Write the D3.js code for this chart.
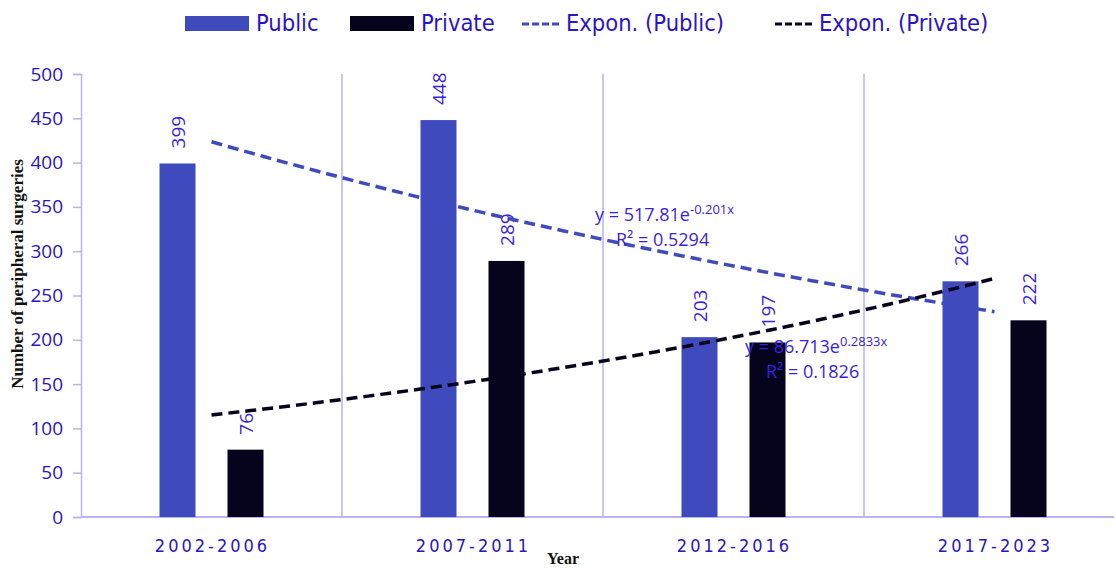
<!DOCTYPE html>
<html>
<head>
<meta charset="utf-8">
<script src="https://cdn.jsdelivr.net/npm/d3@7"></script>
<style>
  body { margin: 0; background: #fff; }
  text { font-family: "DejaVu Sans", sans-serif; }
</style>
</head>
<body>
<script>
const width = 1116;
const height = 568;
const marginTop = 74;
const marginRight = -9;
const marginBottom = 51;
const marginLeft = 81;

// data
const periods = ["2002-2006", "2007-2011", "2012-2016", "2017-2023"];
const publicCounts = [399, 448, 203, 266];
const privateCounts = [76, 289, 197, 222];
const yTicks = [0, 50, 100, 150, 200, 250, 300, 350, 400, 450, 500];
// exponential trend coefficients shown on the chart (a * e^(b*x), x = 1..4)
const publicTrend = [517.81, -0.201];
const privateTrend = [86.713, 0.2833];

const axisColor = "#b9b3ef";
const labelColor = "#3a1fe0";
const tickColor = "#2a14c4";
const publicColor = "#3f4bbd";
const privateColor = "#05041c";
const condensed = "'DejaVu Sans Condensed', 'Liberation Sans Narrow', sans-serif";
const sans = "'Open Sans', 'DejaVu Sans', sans-serif";

const svg = d3.select("body").append("svg")
  .attr("width", width)
  .attr("height", height);

const x = d3.scaleBand()
  .domain(periods)
  .range([marginLeft, width - marginRight])
  .padding(0);

const xNum = d3.scaleLinear()
  .domain([0.5, 4.5])
  .range([marginLeft, width - marginRight]);

const y = d3.scaleLinear()
  .domain([0, 500])
  .range([height - marginBottom, marginTop]);

// category separators
svg.append("g")
  .selectAll("line")
  .data(periods.slice(1))
  .join("line")
    .attr("x1", d => x(d))
    .attr("x2", d => x(d))
    .attr("y1", marginTop)
    .attr("y2", height - marginBottom)
    .attr("stroke", axisColor)
    .attr("stroke-width", 1.5);

// y axis
const yAxis = svg.append("g")
  .attr("transform", `translate(${marginLeft},0)`)
  .call(d3.axisLeft(y).tickValues(yTicks).tickSize(8).tickPadding(10));
yAxis.select(".domain").attr("stroke", axisColor).attr("stroke-width", 1.5);
yAxis.selectAll(".tick line").attr("stroke", axisColor).attr("stroke-width", 1.5);
yAxis.selectAll(".tick text")
  .attr("fill", tickColor)
  .style("font-family", sans)
  .style("font-size", "19px");

// x axis baseline
svg.append("line")
  .attr("x1", marginLeft)
  .attr("x2", 1114)
  .attr("y1", y(0))
  .attr("y2", y(0))
  .attr("stroke", axisColor)
  .attr("stroke-width", 2);

svg.append("g")
  .selectAll("text")
  .data(periods)
  .join("text")
    .attr("x", d => x(d) + x.bandwidth() / 2 + 1)
    .attr("y", 552)
    .attr("text-anchor", "middle")
    .attr("fill", tickColor)
    .style("font-family", condensed)
    .style("font-size", "18px")
    .style("letter-spacing", "3px")
    .text(d => d);

// bars
const barW = 36;
const offset = 34;
const bars = svg.append("g");
bars.selectAll(".pub")
  .data(publicCounts)
  .join("rect")
    .attr("class", "pub")
    .attr("x", (d, i) => x(periods[i]) + x.bandwidth() / 2 - offset - barW / 2)
    .attr("y", d => y(d))
    .attr("width", barW)
    .attr("height", d => y(0) - y(d))
    .attr("fill", publicColor);
bars.selectAll(".priv")
  .data(privateCounts)
  .join("rect")
    .attr("class", "priv")
    .attr("x", (d, i) => x(periods[i]) + x.bandwidth() / 2 + offset - barW / 2)
    .attr("y", d => y(d))
    .attr("width", barW)
    .attr("height", d => y(0) - y(d))
    .attr("fill", privateColor);

// value labels
function valueLabels(data, dx) {
  svg.append("g")
    .selectAll("text")
    .data(data)
    .join("text")
      .attr("transform", (d, i) => {
        const cx = x(periods[i]) + x.bandwidth() / 2 + dx;
        return `translate(${cx + 7},${y(d) - 15}) rotate(-90)`;
      })
      .attr("fill", labelColor)
      .style("font-family", sans)
      .style("font-size", "19px")
      .text(d => d);
}
valueLabels(publicCounts, -offset);
valueLabels(privateCounts, offset);

// trend lines
function trend(coef, color) {
  const pts = d3.range(1, 4.001, 0.05).map(t => [t, coef[0] * Math.exp(coef[1] * t)]);
  svg.append("path")
    .datum(pts)
    .attr("fill", "none")
    .attr("stroke", color)
    .attr("stroke-width", 3.5)
    .attr("stroke-dasharray", "11,6")
    .attr("d", d3.line().x(d => xNum(d[0])).y(d => y(d[1])));
}
trend(publicTrend, publicColor);
trend(privateTrend, privateColor);

// equations
function equation(xp, yp, a, b, r2) {
  const t = svg.append("text")
    .attr("x", xp)
    .attr("y", yp)
    .attr("fill", labelColor)
    .style("font-family", sans)
    .style("font-size", "18px");
  t.append("tspan").text(`y = ${a}e`);
  t.append("tspan").attr("dy", -7).style("font-size", "13px").text(`${b}x`);
  svg.append("text")
    .attr("x", xp + 21)
    .attr("y", yp + 25)
    .attr("fill", labelColor)
    .style("font-family", sans)
    .style("font-size", "18px")
    .text(`R² = ${r2}`);
}
equation(595, 221, publicTrend[0], publicTrend[1], "0.5294");
equation(745, 353, privateTrend[0], privateTrend[1], "0.1826");

// axis titles
svg.append("text")
  .attr("transform", `translate(23,${274}) rotate(-90)`)
  .attr("text-anchor", "middle")
  .style("font-family", "'Liberation Serif', serif")
  .style("font-weight", "bold")
  .style("font-size", "17px")
  .attr("fill", "#111")
  .text("Number of peripheral surgeries");

svg.append("text")
  .attr("x", 563)
  .attr("y", 564)
  .attr("text-anchor", "middle")
  .style("font-family", "'Liberation Serif', serif")
  .style("font-weight", "bold")
  .style("font-size", "16px")
  .attr("fill", "#111")
  .text("Year");

// legend
const legend = svg.append("g");
const legItems = [
  { label: "Public", type: "rect", color: publicColor, x: 185 },
  { label: "Private", type: "rect", color: privateColor, x: 350 },
  { label: "Expon. (Public)", type: "line", color: publicColor, x: 522 },
  { label: "Expon. (Private)", type: "line", color: privateColor, x: 775 }
];
legItems.forEach(it => {
  const isRect = it.type === "rect";
  if (isRect) {
    legend.append("rect")
      .attr("x", it.x).attr("y", 16)
      .attr("width", 64).attr("height", 15)
      .attr("fill", it.color);
  } else {
    legend.append("line")
      .attr("x1", it.x).attr("x2", it.x + 38)
      .attr("y1", 24).attr("y2", 24)
      .attr("stroke", it.color)
      .attr("stroke-width", 3)
      .attr("stroke-dasharray", "7,3");
  }
  legend.append("text")
    .attr("x", it.x + (isRect ? 71 : 44)).attr("y", 31)
    .attr("fill", tickColor)
    .style("font-family", condensed)
    .style("font-size", "23.5px")
    .text(it.label);
});
</script>
</body>
</html>
